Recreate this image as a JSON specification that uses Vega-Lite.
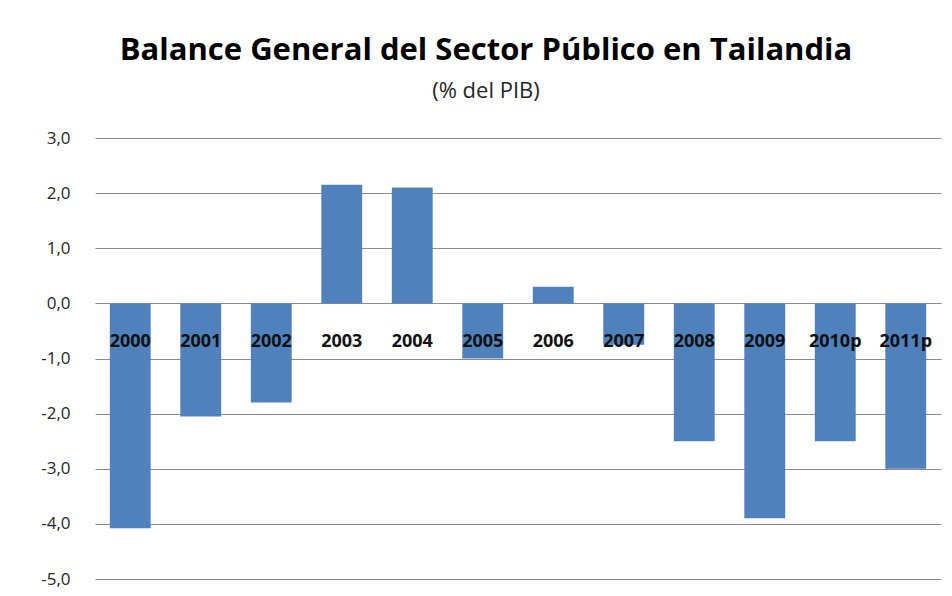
{
  "$schema": "https://vega.github.io/schema/vega-lite/v6.json",
  "autosize": "none",
  "width": 846,
  "height": 441,
  "padding": {"left": 95, "top": 138, "right": 11, "bottom": 17},
  "background": "white",
  "config": {"view": {"stroke": null}, "font": "Open Sans"},
  "title": {
    "text": "Balance General del Sector Público en Tailandia",
    "subtitle": "(% del PIB)",
    "anchor": "middle",
    "dx": -32,
    "font": "Open Sans",
    "fontSize": 31,
    "fontWeight": "bold",
    "color": "#000000",
    "subtitleFont": "Open Sans",
    "subtitleFontSize": 22,
    "subtitleColor": "#262626",
    "subtitlePadding": 14,
    "offset": 26
  },
  "data": {
    "values": [
      {"year": "2000", "value": -4.08},
      {"year": "2001", "value": -2.05},
      {"year": "2002", "value": -1.8},
      {"year": "2003", "value": 2.15},
      {"year": "2004", "value": 2.1},
      {"year": "2005", "value": -1.0},
      {"year": "2006", "value": 0.3},
      {"year": "2007", "value": -0.75},
      {"year": "2008", "value": -2.5},
      {"year": "2009", "value": -3.9},
      {"year": "2010p", "value": -2.5},
      {"year": "2011p", "value": -3.0}
    ]
  },
  "encoding": {
    "x": {
      "field": "year",
      "type": "nominal",
      "sort": null,
      "axis": null,
      "scale": {"paddingInner": 0.42, "paddingOuter": 0.21}
    }
  },
  "layer": [
    {
      "mark": {"type": "bar", "color": "#4F81BD"},
      "encoding": {
        "y": {
          "field": "value",
          "type": "quantitative",
          "scale": {"domain": [-5, 3], "nice": false, "zero": false},
          "axis": {
            "title": null,
            "values": [-5, -4, -3, -2, -1, 0, 1, 2, 3],
            "domain": false,
            "ticks": false,
            "grid": true,
            "gridColor": "#8c8c8c",
            "gridWidth": 1,
            "labelFont": "Open Sans",
            "labelFontSize": 17,
            "labelColor": "#262626",
            "labelPadding": 25,
            "labelExpr": "replace(replace(format(datum.value, '.1f'), '.', ','), '\u2212', '-')"
          }
        }
      }
    },
    {
      "mark": {
        "type": "text",
        "font": "Open Sans",
        "fontSize": 18,
        "fontWeight": "bold",
        "color": "#111111",
        "baseline": "middle",
        "align": "center"
      },
      "encoding": {
        "y": {"datum": -0.7},
        "text": {"field": "year"}
      }
    }
  ]
}
